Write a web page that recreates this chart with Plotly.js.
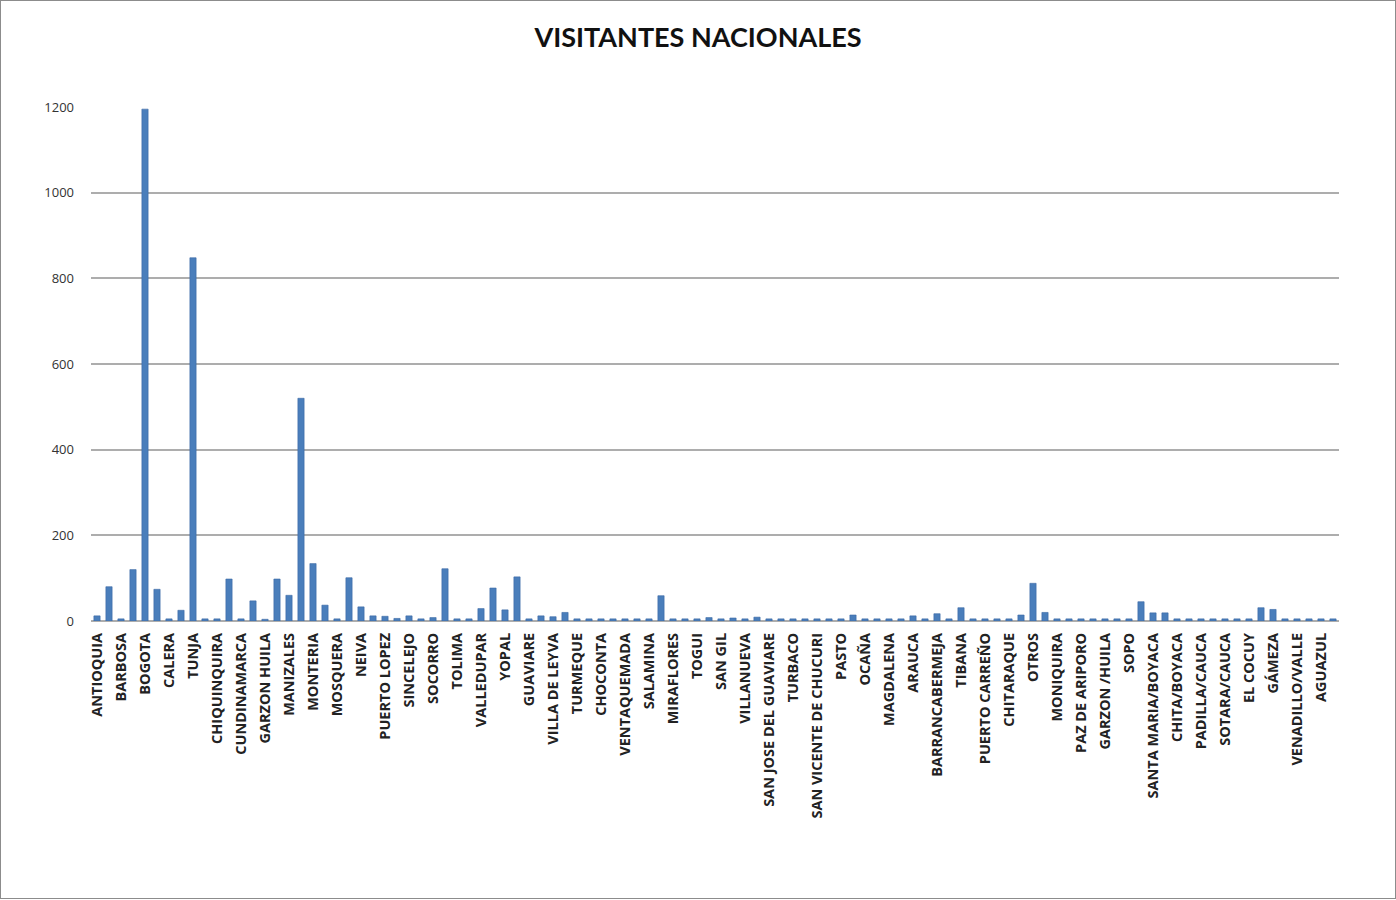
<!DOCTYPE html>
<html>
<head>
<meta charset="utf-8">
<script src="https://cdn.plot.ly/plotly-3.0.1.min.js"></script>
<style>
html,body{margin:0;padding:0;background:#fff;}
#frame{position:absolute;left:0;top:0;width:1394px;height:897px;border:1px solid #8c8c8c;}
#chart{position:absolute;left:0;top:0;width:1396px;height:900px;}
</style>
</head>
<body>
<div id="chart"></div>
<div id="frame"></div>
<script>
// Shown category labels (every other category is labelled in the original)
const shownLabels = [
  "ANTIOQUIA","BARBOSA","BOGOTA","CALERA","TUNJA","CHIQUINQUIRA","CUNDINAMARCA",
  "GARZON HUILA","MANIZALES","MONTERIA","MOSQUERA","NEIVA","PUERTO LOPEZ","SINCELEJO",
  "SOCORRO","TOLIMA","VALLEDUPAR","YOPAL","GUAVIARE","VILLA DE LEYVA","TURMEQUE",
  "CHOCONTA","VENTAQUEMADA","SALAMINA","MIRAFLORES","TOGUI","SAN GIL","VILLANUEVA",
  "SAN JOSE DEL GUAVIARE","TURBACO","SAN VICENTE DE CHUCURI","PASTO","OCAÑA","MAGDALENA",
  "ARAUCA","BARRANCABERMEJA","TIBANA","PUERTO CARREÑO","CHITARAQUE","OTROS","MONIQUIRA",
  "PAZ DE ARIPORO","GARZON /HUILA","SOPO","SANTA MARIA/BOYACA","CHITA/BOYACA",
  "PADILLA/CAUCA","SOTARA/CAUCA","EL COCUY","GÁMEZA","VENADILLO/VALLE","AGUAZUL"
];

// Visitor counts, one per category (104 categories)
const visitantes = [
  12, 80, 5, 120, 1195, 74, 5, 25, 848, 5,
  5, 98, 5, 47, 4, 98, 60, 520, 134, 37,
  5, 101, 33, 12, 11, 6, 12, 5, 8, 122,
  5, 5, 29, 77, 26, 103, 5, 12, 10, 20,
  5, 5, 5, 5, 5, 5, 5, 59, 5, 5,
  5, 8, 5, 7, 5, 9, 5, 5, 5, 5,
  5, 5, 5, 14, 5, 5, 5, 5, 12, 5,
  17, 5, 31, 5, 5, 5, 5, 14, 88, 20,
  5, 5, 5, 5, 5, 5, 5, 45, 19, 19,
  5, 5, 5, 5, 5, 5, 5, 31, 27, 5,
  5, 5, 5, 5
];

const yTicks = [0, 200, 400, 600, 800, 1000, 1200];

const xIdx = visitantes.map((_, i) => i);
const tickIdx = shownLabels.map((_, i) => i * 2);

const trace = {
  type: 'bar',
  x: xIdx,
  y: visitantes,
  marker: {color: '#4a7ebb', line: {color: '#3a68a4', width: 0.6}},
  hoverinfo: 'y'
};

const layout = {
  width: 1396, height: 900,
  paper_bgcolor: '#ffffff', plot_bgcolor: '#ffffff',
  margin: {l: 91, r: 57, t: 107, b: 279},
  title: {
    text: 'VISITANTES NACIONALES',
    font: {family: 'Lato, "Open Sans", sans-serif', size: 27, color: '#111', weight: 'bold'},
    x: 0.5, xanchor: 'center', y: 0.958, yanchor: 'middle'
  },
  bargap: 0.48,
  showlegend: false,
  xaxis: {
    range: [-0.5, visitantes.length - 0.5],
    tickmode: 'array', tickvals: tickIdx, ticktext: shownLabels,
    tickangle: -90,
    tickfont: {family: '"Open Sans", sans-serif', size: 14.5, color: '#222', weight: 'bold'},
    ticklabelstandoff: 8,
    showgrid: false, zeroline: false, showline: false, ticks: '', fixedrange: true
  },
  yaxis: {
    range: [0, 1200],
    tickmode: 'array', tickvals: yTicks, ticktext: yTicks.map(String),
    tickfont: {family: '"Open Sans", sans-serif', size: 13, color: '#333'},
    showgrid: true, gridcolor: '#adadad', gridwidth: 2,
    zeroline: true, zerolinecolor: '#adadad', zerolinewidth: 2,
    showline: false, ticks: '', ticklabelstandoff: 16, fixedrange: true
  }
};

Plotly.newPlot('chart', [trace], layout, {displayModeBar: false, staticPlot: true});
</script>
</body>
</html>
